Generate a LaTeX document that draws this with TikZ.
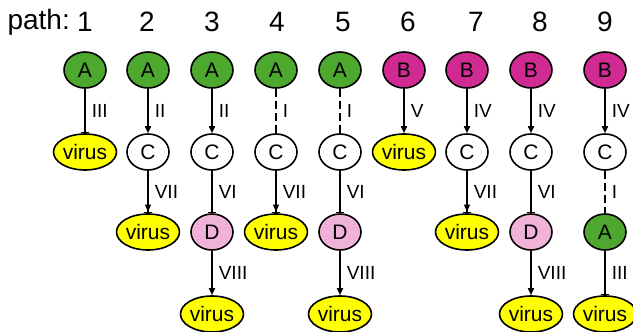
\documentclass[tikz,border=0pt]{standalone}
\usepackage{fontspec}
\setmainfont{Liberation Sans}
\usetikzlibrary{shapes.geometric,arrows.meta}
\definecolor{agreen}{HTML}{4EA72E}
\definecolor{bmag}{HTML}{D12A93}
\definecolor{dpink}{HTML}{F0B2D9}
\definecolor{vyellow}{HTML}{FFFF00}
\begin{document}
\begin{tikzpicture}[x=1pt,y=-1pt,
  nd/.style={ellipse,draw=black,line width=1.6pt,inner sep=0pt,
    minimum width=42pt,minimum height=36pt,font=\fontsize{21}{21}\selectfont},
  an/.style={nd,fill=agreen},
  bn/.style={nd,fill=bmag},
  cn/.style={nd,fill=white},
  dn/.style={nd,fill=dpink},
  vn/.style={nd,fill=vyellow,minimum width=63pt},
  hdr/.style={font=\fontsize{28}{28}\selectfont,inner sep=0pt},
  lbl/.style={font=\fontsize{19}{19}\selectfont,inner sep=0pt,anchor=west},
  edge/.style={line width=1.6pt},
  act/.style={edge,-{Triangle[length=7pt,width=6pt]}},
  inh/.style={edge,-{Bar[width=8pt,line width=1.6pt]}},
  actinh/.style={edge,-{Triangle[length=7pt,width=6pt]Bar[width=8pt,line width=1.6pt]}},
  weak/.style={edge,dash pattern=on 8pt off 4pt},
]
\useasboundingbox (0,0) rectangle (633,332);

% column headers
\node[hdr,anchor=east] (hp) at (70,22) {path:};
\foreach \n/\x in {1/85,2/147,3/212,4/277,5/343,6/408,7/476,8/540,9/605}
  \node[hdr] (h\n) at (\x,22) {\n};

% path 1
\node[an] (a1) at (85,70) {A};
\node[vn] (v1) at (85,152) {virus};
\draw[inh] (a1) -- node[lbl,midway,xshift=6pt]{III} (v1);

% path 2
\node[an] (a2) at (148,70) {A};
\node[cn] (c2) at (148,152) {C};
\node[vn] (v2) at (148,232) {virus};
\draw[act] (a2) -- node[lbl,midway,xshift=6pt]{II} (c2);
\draw[actinh] (c2) -- node[lbl,midway,xshift=6pt]{VII} (v2);

% path 3
\node[an] (a3) at (212,70) {A};
\node[cn] (c3) at (212,152) {C};
\node[dn] (d3) at (212,232) {D};
\node[vn] (v3) at (212,314) {virus};
\draw[act] (a3) -- node[lbl,midway,xshift=6pt]{II} (c3);
\draw[inh] (c3) -- node[lbl,midway,xshift=6pt]{VI} (d3);
\draw[act] (d3) -- node[lbl,midway,xshift=6pt]{VIII} (v3);

% path 4
\node[an] (a4) at (276,70) {A};
\node[cn] (c4) at (276,152) {C};
\node[vn] (v4) at (276,232) {virus};
\draw[weak] (a4) -- node[lbl,midway,xshift=6pt]{I} (c4);
\draw[actinh] (c4) -- node[lbl,midway,xshift=6pt]{VII} (v4);

% path 5
\node[an] (a5) at (340,70) {A};
\node[cn] (c5) at (340,152) {C};
\node[dn] (d5) at (340,232) {D};
\node[vn] (v5) at (340,314) {virus};
\draw[weak] (a5) -- node[lbl,midway,xshift=6pt]{I} (c5);
\draw[inh] (c5) -- node[lbl,midway,xshift=6pt]{VI} (d5);
\draw[act] (d5) -- node[lbl,midway,xshift=6pt]{VIII} (v5);

% path 6
\node[bn] (b6) at (404,70) {B};
\node[vn] (v6) at (404,152) {virus};
\draw[act] (b6) -- node[lbl,midway,xshift=6pt]{V} (v6);

% path 7
\node[bn] (b7) at (467,70) {B};
\node[cn] (c7) at (467,152) {C};
\node[vn] (v7) at (467,232) {virus};
\draw[act] (b7) -- node[lbl,midway,xshift=6pt]{IV} (c7);
\draw[actinh] (c7) -- node[lbl,midway,xshift=6pt]{VII} (v7);

% path 8
\node[bn] (b8) at (531,70) {B};
\node[cn] (c8) at (531,152) {C};
\node[dn] (d8) at (531,232) {D};
\node[vn] (v8) at (531,314) {virus};
\draw[act] (b8) -- node[lbl,midway,xshift=6pt]{IV} (c8);
\draw[inh] (c8) -- node[lbl,midway,xshift=6pt]{VI} (d8);
\draw[act] (d8) -- node[lbl,midway,xshift=6pt]{VIII} (v8);

% path 9
\node[bn] (b9) at (605,70) {B};
\node[cn] (c9) at (605,152) {C};
\node[an] (a9) at (605,232) {A};
\node[vn] (v9) at (605,314) {virus};
\draw[act] (b9) -- node[lbl,midway,xshift=6pt]{IV} (c9);
\draw[weak] (c9) -- node[lbl,midway,xshift=6pt]{I} (a9);
\draw[inh] (a9) -- node[lbl,midway,xshift=6pt]{III} (v9);
\end{tikzpicture}
\end{document}
